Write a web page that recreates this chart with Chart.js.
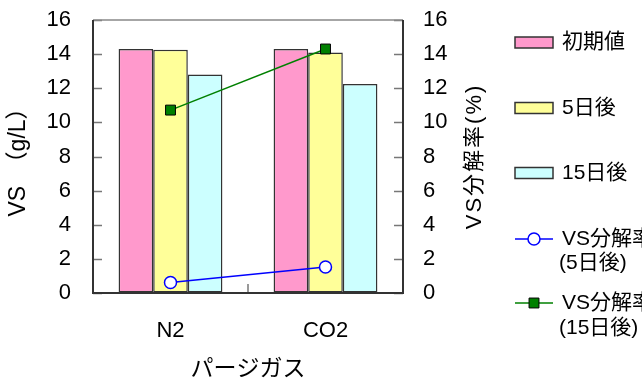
<!DOCTYPE html>
<html>
<head>
<meta charset="utf-8">
<script src="https://cdn.jsdelivr.net/npm/chart.js@4"></script>
<style>
  html, body { margin: 0; padding: 0; background: #fff; }
  #wrap { width: 642px; height: 381px; position: relative; }
</style>
</head>
<body>
<div id="wrap"><canvas id="c" width="642" height="381"></canvas></div>
<script>
// Purge gas categories
const categories = ['N2', 'CO2'];
// VS concentration (g/L)
const vsInitial = [14.3, 14.3];
const vsDay5 = [14.25, 14.1];
const vsDay15 = [12.8, 12.25];
// VS decomposition rate (%)
const rateDay5 = [0.62, 1.52];
const rateDay15 = [10.72, 14.3];
// Axis ticks
const yTicks = [0, 2, 4, 6, 8, 10, 12, 14, 16];

const FONT = '"Liberation Sans", "Noto Sans CJK JP", sans-serif';

// Frame, inward tick marks, the right-hand title and the legend
const decor = {
  id: 'decor',
  afterDatasetsDraw(chart) {
    const ctx = chart.ctx;
    const a = chart.chartArea;
    const y = chart.scales.y, y2 = chart.scales.y2, x = chart.scales.x;
    ctx.save();
    // inward ticks
    ctx.strokeStyle = '#777';
    ctx.lineWidth = 1.5;
    yTicks.forEach(v => {
      const p = Math.round(y.getPixelForValue(v)) + 0.5;
      ctx.beginPath(); ctx.moveTo(a.left, p); ctx.lineTo(a.left + 9, p); ctx.stroke();
      const q = Math.round(y2.getPixelForValue(v)) + 0.5;
      ctx.beginPath(); ctx.moveTo(a.right - 9, q); ctx.lineTo(a.right, q); ctx.stroke();
    });
    const mid = (x.getPixelForValue(0) + x.getPixelForValue(1)) / 2;
    ctx.beginPath(); ctx.moveTo(mid, a.bottom); ctx.lineTo(mid, a.bottom - 9); ctx.stroke();
    // frame
    ctx.strokeStyle = '#888';
    ctx.beginPath(); ctx.moveTo(a.left, a.top); ctx.lineTo(a.right, a.top); ctx.stroke();
    ctx.strokeStyle = '#333';
    ctx.lineWidth = 2;
    ctx.beginPath();
    ctx.moveTo(a.left, a.top); ctx.lineTo(a.left, a.bottom);
    ctx.lineTo(a.right, a.bottom); ctx.lineTo(a.right, a.top);
    ctx.stroke();

    // right axis title, reading bottom to top
    ctx.fillStyle = '#000';
    ctx.font = '22px ' + FONT;
    ctx.letterSpacing = '2px';
    ctx.textAlign = 'center';
    ctx.textBaseline = 'middle';
    ctx.save();
    ctx.translate(475, (a.top + a.bottom) / 2);
    ctx.rotate(-Math.PI / 2);
    ctx.fillText('VS分解率(%)', 0, 0);
    ctx.restore();
    ctx.letterSpacing = '0px';

    // legend
    const ds = chart.data.datasets;
    const bx = 515, bw = 38, bh = 11, tx = 562;
    ctx.font = '21px ' + FONT;
    ctx.textAlign = 'left';
    ctx.textBaseline = 'middle';
    const barRows = [42.5, 108, 173];
    barRows.forEach((cy, i) => {
      ctx.fillStyle = ds[i].backgroundColor;
      ctx.fillRect(bx, cy - bh / 2, bw, bh);
      ctx.strokeStyle = '#333';
      ctx.lineWidth = 1.5;
      ctx.strokeRect(bx, cy - bh / 2, bw, bh);
      ctx.fillStyle = '#000';
      ctx.fillText(ds[i].label, tx, cy);
    });
    const lineRows = [[239, 263, 3, '(5日後)'], [303, 328, 4, '(15日後)']];
    lineRows.forEach(([cy, cy2, i, sub]) => {
      const d = ds[i];
      ctx.strokeStyle = d.borderColor;
      ctx.lineWidth = 1.5;
      ctx.beginPath(); ctx.moveTo(bx, cy); ctx.lineTo(bx + bw, cy); ctx.stroke();
      ctx.fillStyle = d.pointBackgroundColor;
      ctx.strokeStyle = d.pointBorderColor;
      ctx.lineWidth = d.pointBorderWidth;
      ctx.beginPath();
      if (d.pointStyle === 'rect') {
        const s = Math.SQRT1_2 * d.pointRadius;
        ctx.rect(bx + bw / 2 - s, cy - s, 2 * s, 2 * s);
      } else {
        ctx.arc(bx + bw / 2, cy, d.pointRadius, 0, Math.PI * 2);
      }
      ctx.fill(); ctx.stroke();
      ctx.fillStyle = '#000';
      ctx.fillText(d.label, tx, cy);
      ctx.fillText(sub, tx - 3, cy2);
    });
    ctx.restore();
  }
};

const barCommon = {
  type: 'bar',
  borderColor: '#333',
  borderWidth: 1.5,
  borderSkipped: false,
  categoryPercentage: 0.67,
  barPercentage: 1.0,
  yAxisID: 'y',
  order: 2
};

// Axis grid: no lines in the plot, invisible tick marks used only as label spacing
const spacer = (len) => ({
  display: true, drawOnChartArea: false, drawTicks: true,
  tickLength: len, tickColor: 'rgba(0,0,0,0)'
});

new Chart(document.getElementById('c'), {
  type: 'bar',
  data: {
    labels: categories,
    datasets: [
      Object.assign({ label: '初期値', data: vsInitial, backgroundColor: '#FF99CC' }, barCommon),
      Object.assign({ label: '5日後', data: vsDay5, backgroundColor: '#FFFF99' }, barCommon),
      Object.assign({ label: '15日後', data: vsDay15, backgroundColor: '#CCFFFF' }, barCommon),
      {
        type: 'line', label: 'VS分解率', data: rateDay5, yAxisID: 'y2', order: 1,
        borderColor: '#0000FF', borderWidth: 1.5,
        pointStyle: 'circle', pointRadius: 6, pointBorderWidth: 1.5,
        pointBackgroundColor: '#FFFFFF', pointBorderColor: '#0000FF'
      },
      {
        type: 'line', label: 'VS分解率', data: rateDay15, yAxisID: 'y2', order: 1,
        borderColor: '#008000', borderWidth: 1.5,
        pointStyle: 'rect', pointRadius: 7, pointBorderWidth: 1,
        pointBackgroundColor: '#008000', pointBorderColor: '#000000'
      }
    ]
  },
  options: {
    responsive: false,
    animation: false,
    devicePixelRatio: 1,
    layout: { padding: { top: 20, left: 0, right: 0, bottom: 0 } },
    plugins: { legend: { display: false }, tooltip: { enabled: false } },
    scales: {
      x: {
        offset: true,
        grid: { display: false, drawTicks: false },
        border: { display: false },
        ticks: { color: '#000', font: { family: FONT, size: 22 }, padding: 25, maxRotation: 0 },
        title: { display: true, text: 'パージガス', color: '#000', font: { family: FONT, size: 23, lineHeight: 1.0 }, padding: 0 },
        afterFit(s) { s.height = 88; }
      },
      y: {
        position: 'left',
        min: 0, max: 16,
        afterBuildTicks(s) { s.ticks = yTicks.map(v => ({ value: v })); },
        grid: spacer(22),
        border: { display: false },
        ticks: { color: '#000', font: { family: FONT, size: 22 }, padding: 0 },
        title: { display: true, text: 'VS　（g/L）', color: '#000', font: { family: FONT, size: 23 }, padding: 5 },
        afterFit(s) { s.width = 93; }
      },
      y2: {
        position: 'right',
        min: 0, max: 16,
        afterBuildTicks(s) { s.ticks = yTicks.map(v => ({ value: v })); },
        grid: spacer(20),
        border: { display: false },
        ticks: { color: '#000', font: { family: FONT, size: 22 }, padding: 0 },
        afterFit(s) { s.width = 239; }
      }
    }
  },
  plugins: [decor]
});
</script>
</body>
</html>
